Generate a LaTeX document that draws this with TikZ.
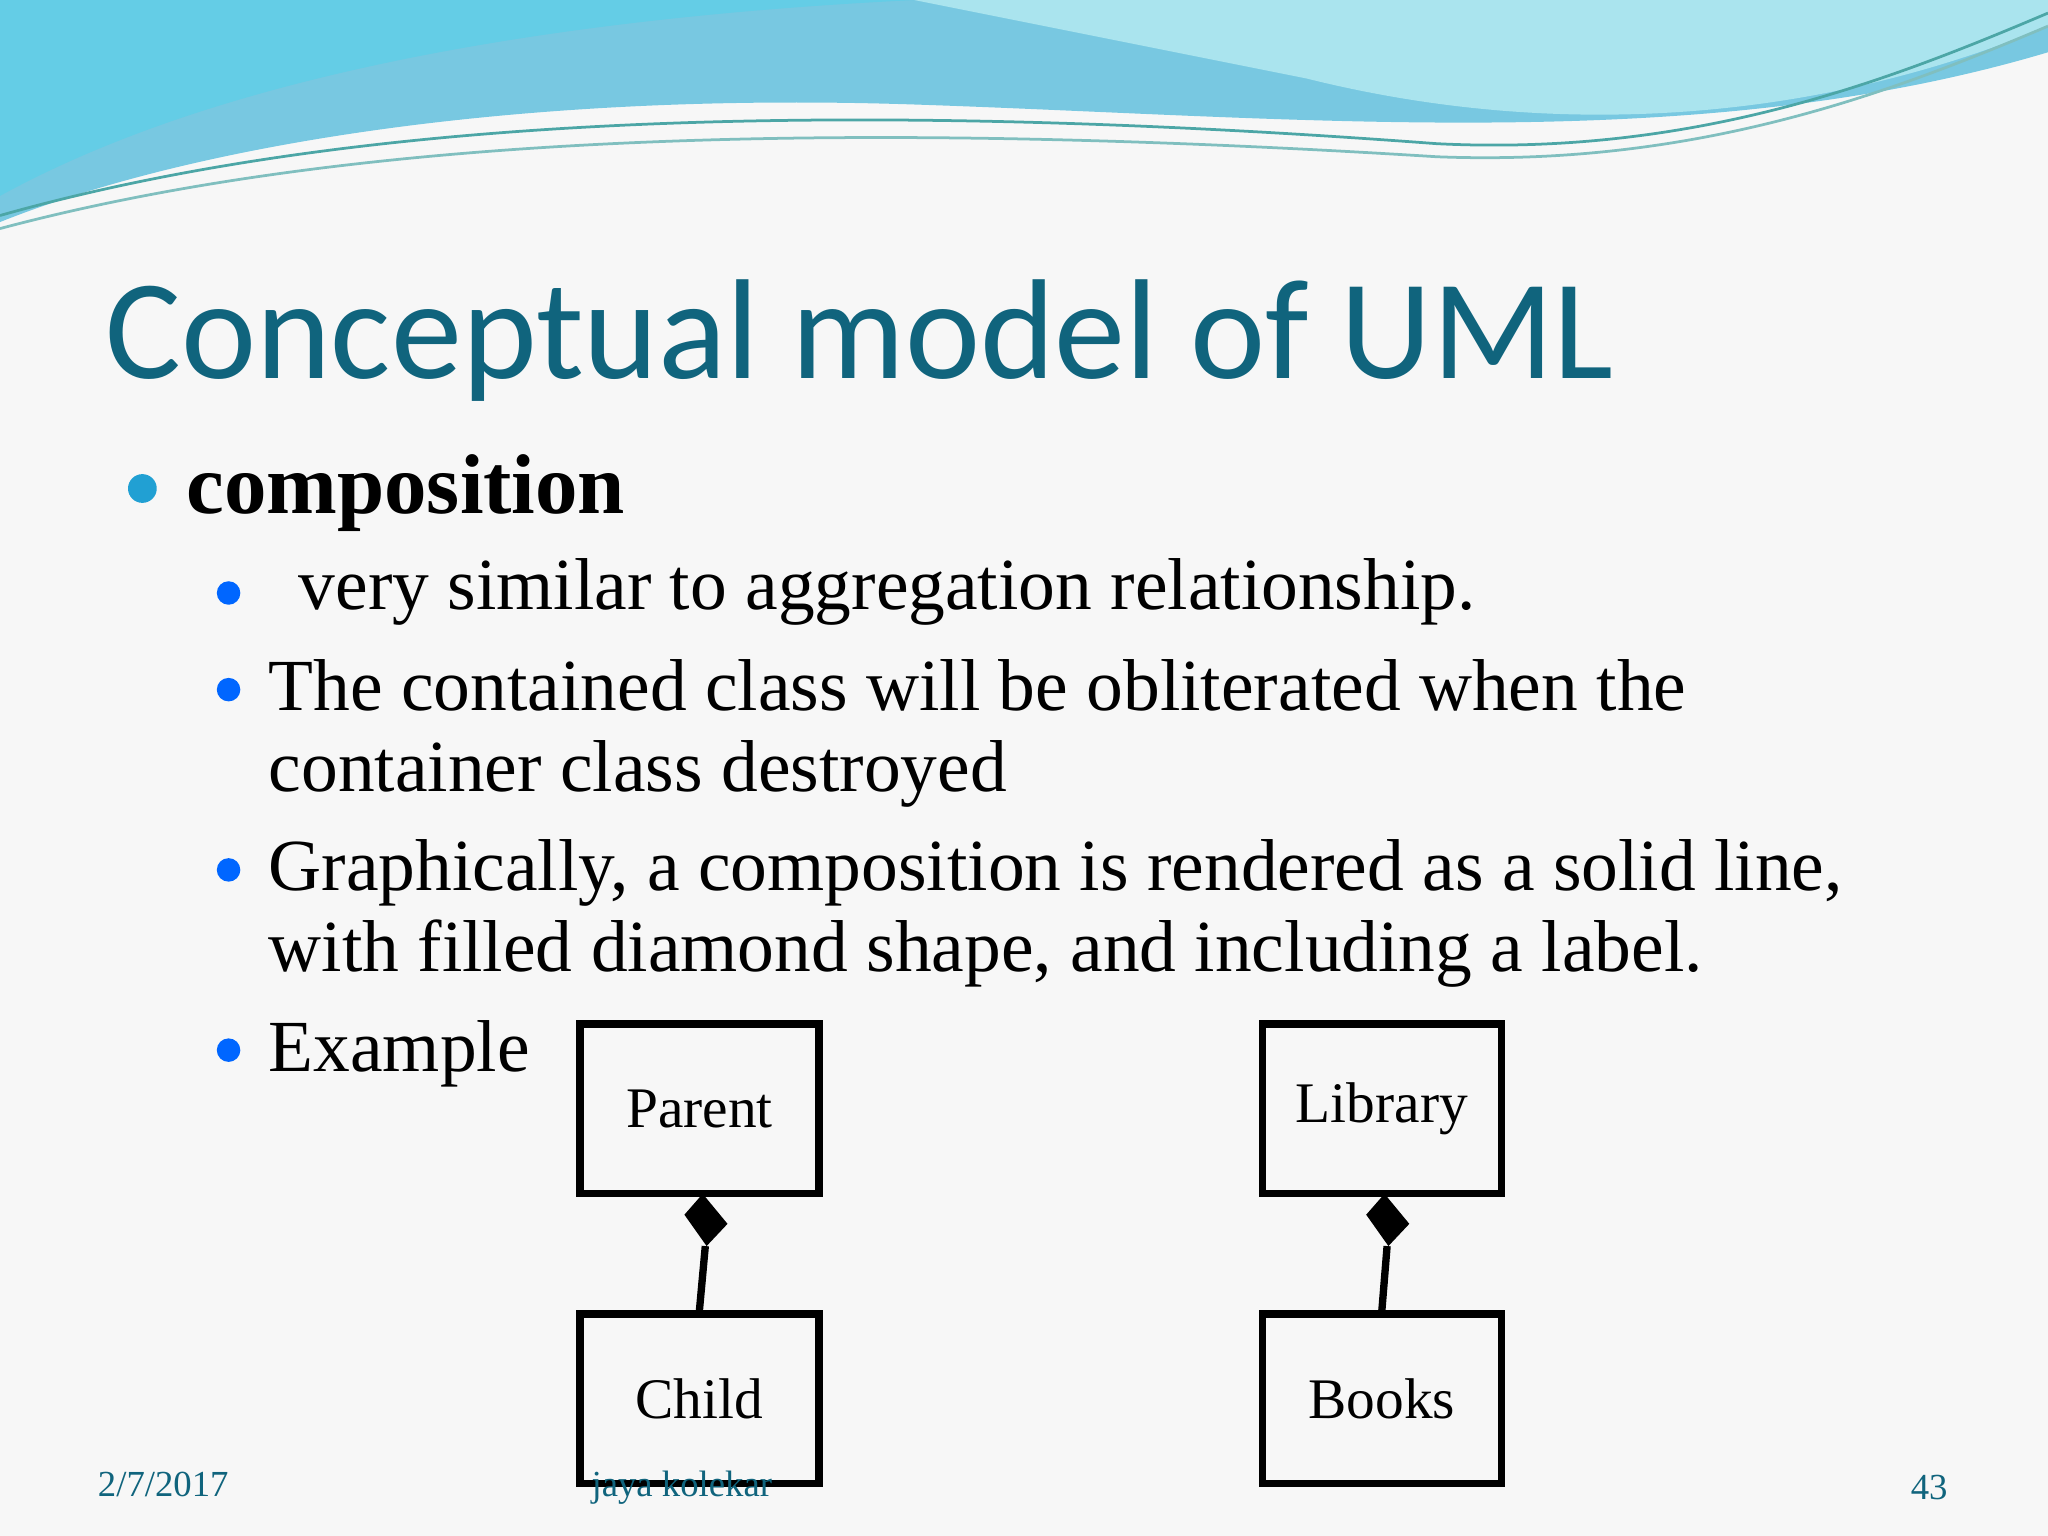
\documentclass[tikz,border=0pt]{standalone}
\usepackage{fontspec}
\setmainfont{Liberation Serif}
\newfontfamily\titlefont{Carlito}
\definecolor{wave1}{RGB}{120,200,225}
\definecolor{wave2}{RGB}{170,228,238}
\definecolor{wave3}{RGB}{100,205,230}
\definecolor{titlec}{RGB}{16,100,125}
\begin{document}
\begin{tikzpicture}[x=0.1mm,y=-0.1mm,
  box/.style={draw,line width=1.6pt,minimum width=18.3mm,minimum height=13mm,inner sep=0pt,font=\fontsize{12.5}{15}\selectfont},
  dot/.style={circle,inner sep=0pt,minimum size=2.2mm},
  body/.style={anchor=base west,inner sep=0pt,font=\fontsize{16}{19}\selectfont},
  foot/.style={anchor=base,inner sep=0pt,text=titlec,font=\fontsize{8}{10}\selectfont}]
\useasboundingbox (0,0) rectangle (1568,1176);
\fill[gray!6] (0,0) rectangle (1568,1176);
% top waves
\fill[wave1] (0,0) -- (1568,0) -- (1568,40) .. controls (1300,120) and (1000,90) .. (700,80) .. controls (400,70) and (150,110) .. (0,170) -- cycle;
\fill[wave2] (700,0) -- (1568,0) -- (1568,20) .. controls (1400,90) and (1200,110) .. (1000,60) .. controls (900,40) and (800,20) .. (700,0) -- cycle;
\fill[wave3] (0,0) -- (700,0) .. controls (500,10) and (200,40) .. (0,150) -- cycle;
\draw[teal!70,line width=0.6pt] (0,165) .. controls (300,80) and (700,80) .. (1100,110) .. controls (1300,120) and (1450,60) .. (1568,10);
\draw[teal!50,line width=0.6pt] (0,175) .. controls (300,95) and (700,95) .. (1100,120) .. controls (1300,128) and (1450,70) .. (1568,20);
% title
\node[anchor=base west,inner sep=0pt,text=titlec,font=\titlefont\fontsize{31}{36}\selectfont] (title) at (80,290) {Conceptual model of UML};
% bullets
\node[dot,fill=cyan!70!teal] (b0) at (109,374) {};
\node[anchor=base west,inner sep=0pt,font=\bfseries\fontsize{18.5}{22}\selectfont] (t0) at (142,393) {composition};
\node[dot,fill=blue!60!cyan,minimum size=1.8mm] (b1) at (175,454) {};
\node[body] (t1) at (228,467) {very similar to aggregation relationship.};
\node[dot,fill=blue!60!cyan,minimum size=1.8mm] (b2) at (175,528) {};
\node[body] (t2) at (205,544) {The contained class will be obliterated when the};
\node[body] (t2b) at (205,606) {container class destroyed};
\node[dot,fill=blue!60!cyan,minimum size=1.8mm] (b3) at (175,666) {};
\node[body] (t3) at (205,682) {Graphically, a composition is rendered as a solid line,};
\node[body] (t3b) at (205,744) {with filled diamond shape, and including a label.};
\node[dot,fill=blue!60!cyan,minimum size=1.8mm] (b4) at (175,804) {};
\node[body] (t4) at (205,820) {Example};
% boxes
\node[box] (parent) at (535.5,849) {Parent};
\node[box] (child) at (535.5,1071) {Child};
\node[box] (lib) at (1058,849) {Library};
\node[box] (books) at (1058,1071) {Books};
\coordinate (d1) at (540,954);
\coordinate (d2) at (1062,954);
\fill (538,914) -- (557,937) -- (541,954) -- (524,930) -- cycle;
\fill (1060,914) -- (1079,937) -- (1063,954) -- (1046,930) -- cycle;
\draw[line width=1.6pt] (child.north) -- (d1);
\draw[line width=1.6pt] (books.north) -- (d2);
% footer
\node[foot] (date) at (125,1146) {2/7/2017};
\node[foot] (auth) at (522,1146) {jaya kolekar};
\node[foot] (page) at (1477,1148) {43};
\end{tikzpicture}
\end{document}
